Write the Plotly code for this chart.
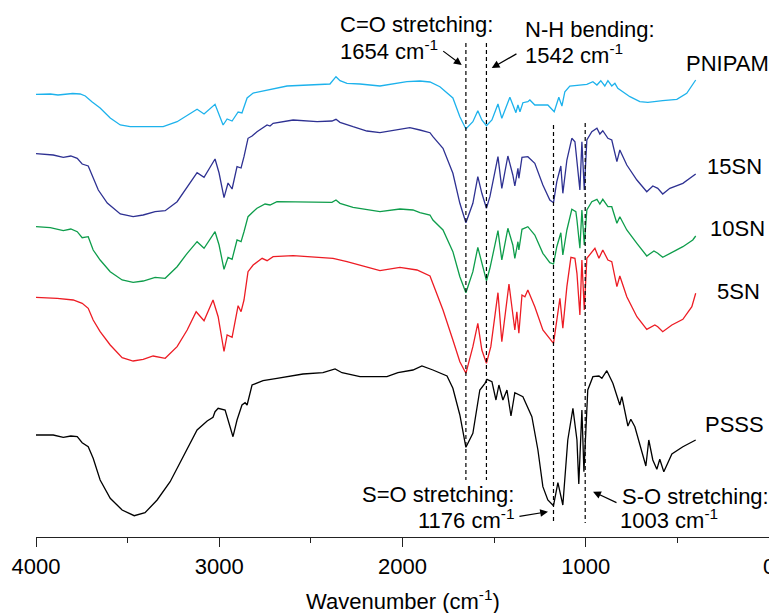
import plotly.graph_objects as go

# ---- data (wavenumber in cm-1, vertical value = offset depth, axis drawn reversed) ----
pnipam_wn = [4000,3922,3880,3851,3800,3759,3731,3695,3650,3595,3540,3486,3306,3230,3121,3083,3023,2979,2957,2930,2897,2876,2848,2815,2739,2630,2396,2363,2341,2303,2232,2123,1976,1905,1850,1796,1725,1687,1654,1616,1589,1567,1542,1512,1479,1458,1414,1381,1370,1359,1343,1316,1305,1278,1207,1172,1147,1130,1114,1087,994,961,939,918,896,879,858,841,825,759,705,661,580,503,449,400]
pnipam_y = [94.3,94,95,94.5,93.5,94,96,101.7,108,118,125,126.7,126.7,121.7,109.3,114,104.3,125,119,121,112,113,98,93,90,86,84,76.7,80.7,83.3,84,86,81.7,81,82,86.7,98,116.7,129,121.7,110.7,120,125.7,120,104,118.3,97.3,112.7,105,111.7,102.7,101.7,100,105,105,111.7,97.3,106,91.7,86,84.3,81.7,85,80.7,86,80.7,86,83.3,88.3,96.7,101.7,102.3,100.7,99.3,93.3,80]

sn15_wn = [4000,3906,3851,3810,3775,3748,3715,3688,3660,3611,3540,3470,3415,3350,3295,3230,3175,3121,3083,3023,3001,2974,2952,2930,2903,2881,2865,2843,2821,2794,2739,2723,2706,2597,2466,2385,2363,2341,2270,2194,2123,2030,1960,1905,1850,1834,1779,1725,1687,1654,1616,1589,1567,1542,1523,1479,1458,1425,1398,1387,1370,1365,1348,1316,1278,1234,1196,1176,1158,1136,1125,1103,1076,1059,1048,1032,1021,1008,994,967,939,923,907,879,858,841,830,814,776,721,667,634,607,580,541,470,416,400]
sn15_y = [153.7,155,157.3,156,158.3,164,166,178,190,203,214,216.7,215,211.7,210.7,201.7,186.7,172.7,177.3,159,173,197.7,183,189,166.7,168,156.7,138.3,136,131.7,125,126,123.3,120,121.7,121,119.3,122.3,126.7,131,132.7,130,127.7,130,132.7,136.7,148.3,173.3,203.3,222.7,203.3,176.7,193.3,208.3,196.7,156.7,188.3,156,175,186,168.3,178.3,157.3,156.7,163.3,185,200,202.7,181.7,166,193.3,160,138.3,141.7,160,190,141.7,190,140,131.7,128.3,134,130.7,138.3,140,151.7,161.7,150,165,180,191.7,186,188.3,194,188.3,183.3,176.7,174]

sn10_wn = [4000,3922,3851,3810,3775,3748,3715,3688,3650,3595,3530,3470,3415,3350,3295,3230,3175,3121,3083,3023,3001,2974,2952,2930,2903,2881,2865,2843,2821,2794,2750,2723,2685,2543,2385,2363,2341,2270,2123,2014,1943,1905,1850,1834,1779,1725,1687,1654,1616,1589,1567,1542,1523,1479,1458,1425,1398,1387,1370,1365,1348,1316,1278,1234,1196,1176,1158,1136,1125,1103,1076,1054,1048,1032,1021,1008,994,967,939,923,907,879,858,841,830,814,776,721,667,628,607,580,530,470,416,400]
sn10_y = [226.7,227.7,230.7,229,231.7,237.7,236.7,250,260,271.7,280,282.3,281,277.3,278.3,266.7,253.3,241.7,248.3,231.7,245,269.3,257.3,259.3,240,241.7,231.7,216.7,212.7,208.3,204,205,201.7,201.7,202.3,200,203.3,207.3,211.7,209,210,212.7,215,220,230,251.7,276.7,292.7,271.7,247.3,261.7,280.7,268.3,230.7,260,228.3,245,258.3,241.7,250,229.3,226.7,235,253.3,262.7,264,246.7,232.7,255,230,209.3,211.7,220,248.3,210,245,210,201.7,199.3,204,199.3,206.7,206.7,216.7,223.3,216.7,230,243.3,256,251,253.3,257.3,252.7,246.7,240,236]

sn5_wn = [4000,3884,3797,3748,3715,3688,3650,3595,3530,3470,3415,3361,3295,3230,3175,3126,3083,3034,3006,2974,2957,2930,2897,2881,2865,2843,2815,2766,2739,2706,2597,2450,2379,2303,2232,2123,2014,1921,1850,1779,1725,1687,1654,1616,1589,1567,1542,1518,1479,1458,1419,1398,1387,1376,1365,1348,1332,1316,1278,1234,1207,1176,1163,1141,1125,1103,1081,1059,1048,1032,1021,1008,994,967,950,928,907,879,858,830,814,776,721,667,623,607,580,530,470,421,400]
sn5_y = [297.3,298.3,300,303.3,308.3,320,331.7,345,357.7,361,359.3,356,358.3,346.7,330,311.7,320.7,300,316.7,351.5,335,337.3,305.7,311.7,300,271.7,265,258.3,260.7,256.7,255.7,257.7,258.3,261.7,265,270.7,267.3,270,276,310,340,361.7,373.3,346.7,323.3,350,363.3,346.7,292.7,341.7,284,313.3,330,311.7,333.3,295,296.7,290,306.7,330,336.7,343.3,326.7,298.3,328.3,286.7,257.3,258.3,273.3,315,260,310,258.3,251.7,248.3,258.3,250,260,261.7,286.7,276,296.7,316.7,329.3,325,326.7,331.7,325,319.3,306.7,293.3]

psss_wn = [4000,3906,3851,3810,3775,3748,3715,3688,3650,3595,3530,3464,3405,3339,3268,3197,3121,3066,3034,3023,3006,2968,2946,2925,2903,2876,2859,2848,2821,2761,2685,2543,2434,2368,2330,2232,2085,2025,1943,1894,1834,1757,1725,1687,1654,1616,1578,1550,1539,1512,1490,1474,1452,1430,1408,1387,1343,1294,1261,1234,1207,1176,1152,1125,1098,1070,1048,1038,1021,1010,989,961,928,912,885,852,814,803,770,754,732,694,672,656,634,612,596,574,530,470,416,400]
psss_y = [435,435,437.3,436,436.7,442.7,446.7,458.3,480,498.3,510,515.7,512.7,500,481.7,456.7,430,421,417.3,411.7,408.3,410,423.3,436.7,420,405,402.7,405,385,380.7,378.3,374,372.7,369,372.7,376.7,376.7,372.7,370,366,370,376,388.3,415,447.3,433.3,390,383.3,379.3,381.7,400,385,400,390,416,392.7,396.7,416.7,450,486.7,500,505.7,482.7,505,440,408.3,440,484,410,471.7,390,376.7,376,378.3,370.7,383.3,405,396.7,426,419.3,426.7,453.3,466,440,460,469.3,459.3,471.7,454,446.7,441.7,440]

series_names = ["PNIPAM", "15SN", "10SN", "5SN", "PSSS"]
series_colors = ["#1DB2EC", "#2E3192", "#0E9D4B", "#ED1C24", "#000000"]
series_wn = [pnipam_wn, sn15_wn, sn10_wn, sn5_wn, psss_wn]
series_y = [pnipam_y, sn15_y, sn10_y, sn5_y, psss_y]

# label anchor positions (left edge wavenumber, vertical)
label_wn = [462, 349, 333, 295, 360]
label_y = [63.5, 166, 228, 291, 424]

marked_wn = [1654, 1542, 1176, 1003]
marked_top = [43, 43, 125, 123]
marked_bot = [480, 480, 523, 523]

tick_vals = [4000, 3000, 2000, 1000, 0]

FONT = "Liberation Sans, Arial, sans-serif"
FS = 22

fig = go.Figure()
for name, col, wn, yv in zip(series_names, series_colors, series_wn, series_y):
    assert len(wn) == len(yv), name
    fig.add_trace(go.Scatter(x=wn, y=yv, mode="lines", name=name,
                             line=dict(color=col, width=1.3), showlegend=False))

for w, t, b in zip(marked_wn, marked_top, marked_bot):
    fig.add_shape(type="line", xref="x", yref="y", x0=w, x1=w, y0=t, y1=b,
                  line=dict(color="black", width=1.2, dash="4px,3px"))

ann = []
for name, w, yy in zip(series_names, label_wn, label_y):
    ann.append(dict(x=w, y=yy, xref="x", yref="y", text=name, showarrow=False,
                    xanchor="left", yanchor="middle", font=dict(size=FS)))

texts = [
    ("C=O stretching:", 2352, 24.5, "left"),
    ("1654 cm<sup>-1</sup>", 2352, 50, "left"),
    ("N-H bending:", 1342, 29, "left"),
    ("1542 cm<sup>-1</sup>", 1342, 53.5, "left"),
    ("S=O stretching:", 1381, 494, "right"),
    ("1176 cm<sup>-1</sup>", 1381, 519, "right"),
    ("S-O stretching:", 813, 496, "left"),
    ("1003 cm<sup>-1</sup>", 824, 519, "left"),
]
for t, w, yy, xa in texts:
    ann.append(dict(x=w, y=yy, xref="x", yref="y", text=t, showarrow=False,
                    xanchor=xa, yanchor="middle", font=dict(size=FS)))

arrows = [  # head (x, y), tail (x, y)
    (1677, 65, 1786, 50),
    (1513, 68, 1370, 53),
    (1206, 511.7, 1370, 516.7),
    (960, 491.7, 824, 503.3),
]
for hx, hy, tx, ty in arrows:
    ann.append(dict(x=hx, y=hy, ax=tx, ay=ty, xref="x", yref="y", axref="x", ayref="y",
                    text="", showarrow=True, arrowhead=2, arrowsize=1.3,
                    arrowwidth=1.2, arrowcolor="black", standoff=0, startstandoff=0))

ann.append(dict(x=0.5, y=-0.1191, xref="paper", yref="paper",
                text="Wavenumber (cm<sup>-1</sup>)", showarrow=False,
                xanchor="center", yanchor="middle", font=dict(size=FS)))

# the page body has an 8px margin; the figure is placed so the plot lands where the reference has it
fig.update_layout(
    width=777, height=605,
    margin=dict(l=28, r=16, t=0, b=76),
    paper_bgcolor="white", plot_bgcolor="white",
    font=dict(family=FONT, size=FS, color="black"),
    annotations=ann,
    xaxis=dict(range=[4000, 0], tickvals=tick_vals, ticks="outside", ticklen=9,
               tickwidth=1.3, tickcolor="#222", showline=True, linecolor="#222",
               linewidth=1.3, showgrid=False, zeroline=False,
               tickfont=dict(size=FS, family=FONT),
               minor=dict(tickvals=[3500, 2500, 1500, 500], ticks="outside",
                          ticklen=5, tickwidth=1.3, tickcolor="#222", showgrid=False)),
    yaxis=dict(range=[537, 8], visible=False, showgrid=False, zeroline=False),
)

fig.write_html("out.html")
